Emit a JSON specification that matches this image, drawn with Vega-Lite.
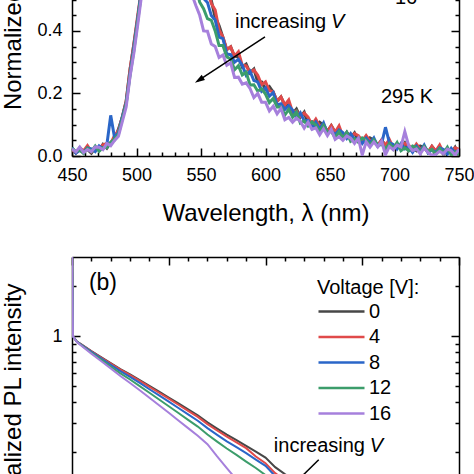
{
  "$schema": "https://vega.github.io/schema/vega-lite/v6.json",
  "padding": {"left": 1, "top": -189, "right": 0, "bottom": -88},
  "spacing": 31,
  "config": {
    "font": "Liberation Sans",
    "view": {"stroke": null},
    "axis": {"grid": false, "domainColor": "black", "domainWidth": 1.5, "tickColor": "black", "tickWidth": 1.5, "labelColor": "black", "titleColor": "black", "labelFontSize": 18, "titleFontSize": 24, "titleFontWeight": "normal", "labelFont": "Liberation Sans", "titleFont": "Liberation Sans", "labelOverlap": false, "labelFlush": false}
  },
  "resolve": {"legend": {"color": "independent"}},
  "datasets": {
    "spectra": [
      {"w":450,"0":0.020,"4":0.021,"8":0.027,"12":0.025,"16":0.023},
      {"w":453,"0":0.010,"4":0.010,"8":0.009,"12":0.014,"16":0.013},
      {"w":456,"0":0.026,"4":0.026,"8":0.018,"12":0.019,"16":0.029},
      {"w":459,"0":0.015,"4":0.016,"8":0.012,"12":0.008,"16":0.011},
      {"w":462,"0":0.021,"4":0.033,"8":0.026,"12":0.025,"16":0.021},
      {"w":465,"0":0.009,"4":0.014,"8":0.023,"12":0.014,"16":0.014},
      {"w":468,"0":0.027,"4":0.025,"8":0.014,"12":0.032,"16":0.029},
      {"w":471,"0":0.018,"4":0.020,"8":0.032,"12":0.015,"16":0.028},
      {"w":474,"0":0.037,"4":0.036,"8":0.023,"12":0.027,"16":0.020},
      {"w":477,"0":0.025,"4":0.040,"8":0.035,"12":0.027,"16":0.040},
      {"w":480,"0":0.043,"4":0.040,"8":0.130,"12":0.044,"16":0.033},
      {"w":483,"0":0.051,"4":0.065,"8":0.058,"12":0.055,"16":0.050},
      {"w":486,"0":0.086,"4":0.081,"8":0.075,"12":0.070,"16":0.063},
      {"w":489,"0":0.124,"4":0.125,"8":0.125,"12":0.119,"16":0.110},
      {"w":492,"0":0.175,"4":0.176,"8":0.170,"12":0.167,"16":0.157},
      {"w":495,"0":0.277,"4":0.278,"8":0.265,"12":0.258,"16":0.254},
      {"w":498,"0":0.358,"4":0.360,"8":0.350,"12":0.339,"16":0.330},
      {"w":501,"0":0.442,"4":0.452,"8":0.441,"12":0.434,"16":0.421},
      {"w":504,"0":0.533,"4":0.538,"8":0.539,"12":0.526,"16":0.516},
      {"w":507,"0":0.665,"4":0.664,"8":0.650,"12":0.658,"16":0.646},
      {"w":510,"0":0.767,"4":0.769,"8":0.775,"12":0.759,"16":0.764},
      {"w":513,"0":0.869,"4":0.869,"8":0.858,"12":0.861,"16":0.855},
      {"w":516,"0":0.925,"4":0.937,"8":0.932,"12":0.926,"16":0.937},
      {"w":519,"0":0.971,"4":0.968,"8":0.966,"12":0.982,"16":0.978},
      {"w":522,"0":0.996,"4":1.0,"8":1.0,"12":1.0,"16":1.0},
      {"w":525,"0":1.0,"4":0.996,"8":0.988,"12":0.982,"16":0.973},
      {"w":528,"0":0.974,"4":0.975,"8":0.972,"12":0.961,"16":0.945},
      {"w":531,"0":0.925,"4":0.926,"8":0.910,"12":0.895,"16":0.867},
      {"w":534,"0":0.877,"4":0.878,"8":0.849,"12":0.823,"16":0.789},
      {"w":537,"0":0.798,"4":0.800,"8":0.766,"12":0.727,"16":0.675},
      {"w":540,"0":0.722,"4":0.732,"8":0.694,"12":0.654,"16":0.591},
      {"w":543,"0":0.643,"4":0.648,"8":0.621,"12":0.576,"16":0.516},
      {"w":546,"0":0.605,"4":0.604,"8":0.564,"12":0.540,"16":0.481},
      {"w":549,"0":0.557,"4":0.559,"8":0.539,"12":0.492,"16":0.450},
      {"w":552,"0":0.558,"4":0.555,"8":0.504,"12":0.471,"16":0.400},
      {"w":555,"0":0.509,"4":0.530,"8":0.491,"12":0.439,"16":0.399},
      {"w":558,"0":0.497,"4":0.488,"8":0.449,"12":0.434,"16":0.358},
      {"w":561,"0":0.443,"4":0.467,"8":0.435,"12":0.400,"16":0.350},
      {"w":564,"0":0.417,"4":0.404,"8":0.380,"12":0.353,"16":0.315},
      {"w":567,"0":0.379,"4":0.380,"8":0.375,"12":0.353,"16":0.323},
      {"w":570,"0":0.340,"4":0.340,"8":0.326,"12":0.317,"16":0.290},
      {"w":573,"0":0.349,"4":0.349,"8":0.324,"12":0.310,"16":0.298},
      {"w":576,"0":0.318,"4":0.319,"8":0.300,"12":0.276,"16":0.251},
      {"w":579,"0":0.317,"4":0.333,"8":0.309,"12":0.289,"16":0.252},
      {"w":582,"0":0.285,"4":0.290,"8":0.290,"12":0.259,"16":0.230},
      {"w":585,"0":0.294,"4":0.288,"8":0.258,"12":0.268,"16":0.234},
      {"w":588,"0":0.266,"4":0.268,"8":0.271,"12":0.227,"16":0.216},
      {"w":591,"0":0.278,"4":0.275,"8":0.241,"12":0.228,"16":0.187},
      {"w":594,"0":0.237,"4":0.258,"8":0.237,"12":0.207,"16":0.200},
      {"w":597,"0":0.237,"4":0.228,"8":0.207,"12":0.215,"16":0.172},
      {"w":600,"0":0.213,"4":0.237,"8":0.218,"12":0.198,"16":0.172},
      {"w":603,"0":0.222,"4":0.209,"8":0.191,"12":0.171,"16":0.144},
      {"w":606,"0":0.204,"4":0.205,"8":0.203,"12":0.184,"16":0.159},
      {"w":609,"0":0.175,"4":0.175,"8":0.163,"12":0.157,"16":0.135},
      {"w":612,"0":0.189,"4":0.189,"8":0.167,"12":0.157,"16":0.152},
      {"w":615,"0":0.162,"4":0.163,"8":0.149,"12":0.131,"16":0.116},
      {"w":618,"0":0.163,"4":0.179,"8":0.161,"12":0.149,"16":0.123},
      {"w":621,"0":0.135,"4":0.140,"8":0.147,"12":0.124,"16":0.108},
      {"w":624,"0":0.150,"4":0.144,"8":0.122,"12":0.141,"16":0.121},
      {"w":627,"0":0.124,"4":0.126,"8":0.138,"12":0.105,"16":0.111},
      {"w":630,"0":0.140,"4":0.137,"8":0.113,"12":0.112,"16":0.089},
      {"w":633,"0":0.103,"4":0.124,"8":0.114,"12":0.096,"16":0.108},
      {"w":636,"0":0.109,"4":0.100,"8":0.089,"12":0.109,"16":0.085},
      {"w":639,"0":0.094,"4":0.118,"8":0.108,"12":0.099,"16":0.090},
      {"w":642,"0":0.108,"4":0.095,"8":0.086,"12":0.078,"16":0.068},
      {"w":645,"0":0.099,"4":0.100,"8":0.106,"12":0.098,"16":0.087},
      {"w":648,"0":0.078,"4":0.078,"8":0.073,"12":0.075,"16":0.065},
      {"w":651,"0":0.097,"4":0.097,"8":0.081,"12":0.079,"16":0.085},
      {"w":654,"0":0.075,"4":0.076,"8":0.068,"12":0.058,"16":0.053},
      {"w":657,"0":0.080,"4":0.096,"8":0.083,"12":0.078,"16":0.062},
      {"w":660,"0":0.058,"4":0.063,"8":0.075,"12":0.057,"16":0.050},
      {"w":663,"0":0.076,"4":0.072,"8":0.056,"12":0.075,"16":0.064},
      {"w":666,"0":0.058,"4":0.060,"8":0.072,"12":0.047,"16":0.057},
      {"w":669,"0":0.074,"4":0.072,"8":0.053,"12":0.055,"16":0.040},
      {"w":672,"0":0.047,"4":0.065,"8":0.057,"12":0.044,"16":0.057},
      {"w":675,"0":0.055,"4":0.048,"8":0.040,"12":0.058,"16":0.003},
      {"w":678,"0":0.044,"4":0.065,"8":0.057,"12":0.051,"16":0.045},
      {"w":681,"0":0.058,"4":0.048,"8":0.041,"12":0.035,"16":0.028},
      {"w":684,"0":0.051,"4":0.052,"8":0.058,"12":0.052,"16":0.045},
      {"w":687,"0":0.034,"4":0.034,"8":0.031,"12":0.035,"16":0.029},
      {"w":690,"0":0.051,"4":0.051,"8":0.039,"12":0.039,"16":0.047},
      {"w":693,"0":0.034,"4":0.035,"8":0.092,"12":0.022,"16":0.004},
      {"w":696,"0":0.039,"4":0.053,"8":0.043,"12":0.040,"16":0.030},
      {"w":699,"0":0.022,"4":0.027,"8":0.037,"12":0.024,"16":0.020},
      {"w":702,"0":0.040,"4":0.036,"8":0.022,"12":0.043,"16":0.035},
      {"w":705,"0":0.024,"4":0.026,"8":0.040,"12":0.017,"16":0.029},
      {"w":708,"0":0.042,"4":0.040,"8":0.023,"12":0.026,"16":0.078},
      {"w":711,"0":0.017,"4":0.035,"8":0.029,"12":0.017,"16":0.033},
      {"w":714,"0":0.026,"4":0.019,"8":0.012,"12":0.032,"16":0.017},
      {"w":717,"0":0.017,"4":0.038,"8":0.031,"12":0.027,"16":0.023},
      {"w":720,"0":0.032,"4":0.022,"8":0.016,"12":0.012,"16":0.007},
      {"w":723,"0":0.027,"4":0.028,"8":0.035,"12":0.031,"16":0.026},
      {"w":726,"0":0.012,"4":0.012,"8":0.010,"12":0.015,"16":0.011},
      {"w":729,"0":0.031,"4":0.031,"8":0.020,"12":0.021,"16":0.002},
      {"w":732,"0":0.015,"4":0.016,"8":0.011,"12":0.005,"16":0.005},
      {"w":735,"0":0.021,"4":0.035,"8":0.026,"12":0.024,"16":0.015},
      {"w":738,"0":0.005,"4":0.010,"8":0.021,"12":0.009,"16":0.007},
      {"w":741,"0":0.024,"4":0.020,"8":0.006,"12":0.028,"16":0.022},
      {"w":744,"0":0.009,"4":0.011,"8":0.025,"12":0.003,"16":0.017},
      {"w":747,"0":0.028,"4":0.026,"8":0.010,"12":0.014,"16":0.003},
      {"w":750,"0":0.003,"4":0.021,"8":0.016,"12":0.005,"16":0.022}
    ],
    "decay": [
      {"t":0,"0":3.5,"4":3.5,"8":3.5,"12":3.5,"16":3.5},
      {"t":0.05,"0":1.0,"4":1.0,"8":1.0,"12":1.0,"16":1.0},
      {"t":0.25,"0":0.93,"4":0.93,"8":0.928,"12":0.925,"16":0.922},
      {"t":0.5,"0":0.89,"4":0.888,"8":0.885,"12":0.879,"16":0.874},
      {"t":1,"0":0.815,"4":0.812,"8":0.806,"12":0.795,"16":0.786},
      {"t":1.5,"0":0.75,"4":0.745,"8":0.737,"12":0.723,"16":0.710},
      {"t":2,"0":0.69,"4":0.685,"8":0.674,"12":0.658,"16":0.641},
      {"t":2.5,"0":0.635,"4":0.630,"8":0.617,"12":0.598,"16":0.577},
      {"t":3,"0":0.59,"4":0.584,"8":0.570,"12":0.549,"16":0.523},
      {"t":3.5,"0":0.545,"4":0.539,"8":0.524,"12":0.501,"16":0.473},
      {"t":4,"0":0.503,"4":0.496,"8":0.480,"12":0.457,"16":0.426},
      {"t":4.5,"0":0.464,"4":0.457,"8":0.441,"12":0.416,"16":0.384},
      {"t":5,"0":0.428,"4":0.421,"8":0.404,"12":0.379,"16":0.346},
      {"t":5.5,"0":0.394,"4":0.387,"8":0.370,"12":0.345,"16":0.311},
      {"t":6,"0":0.363,"4":0.356,"8":0.339,"12":0.314,"16":0.280},
      {"t":6.5,"0":0.334,"4":0.327,"8":0.310,"12":0.286,"16":0.252},
      {"t":7,"0":0.303,"4":0.296,"8":0.280,"12":0.256,"16":0.224},
      {"t":7.5,"0":0.278,"4":0.271,"8":0.255,"12":0.232,"16":0.189},
      {"t":8,"0":0.256,"4":0.249,"8":0.233,"12":0.211,"16":0.161},
      {"t":8.5,"0":0.237,"4":0.230,"8":0.215,"12":0.193,"16":0.137},
      {"t":9,"0":0.219,"4":0.212,"8":0.198,"12":0.176,"16":0.117},
      {"t":9.5,"0":0.202,"4":0.189,"8":0.181,"12":0.161,"16":0.099},
      {"t":10,"0":0.186,"4":0.172,"8":0.166,"12":0.146,"16":0.084},
      {"t":10.5,"0":0.163,"4":0.150,"8":0.144,"12":0.126,"16":0.071},
      {"t":11,"0":0.148,"4":0.136,"8":0.130,"12":0.113,"16":0.063},
      {"t":11.5,"0":0.135,"4":0.124,"8":0.118,"12":0.102,"16":0.055},
      {"t":12,"0":0.123,"4":0.113,"8":0.107,"12":0.092,"16":0.049},
      {"t":13,"0":0.102,"4":0.094,"8":0.088,"12":0.074,"16":0.038},
      {"t":14,"0":0.085,"4":0.078,"8":0.072,"12":0.061,"16":0.029},
      {"t":15,"0":0.071,"4":0.065,"8":0.060,"12":0.049,"16":0.023},
      {"t":16,"0":0.059,"4":0.054,"8":0.049,"12":0.040,"16":0.018},
      {"t":17,"0":0.049,"4":0.045,"8":0.040,"12":0.032,"16":0.014},
      {"t":18,"0":0.041,"4":0.037,"8":0.033,"12":0.027,"16":0.011},
      {"t":19,"0":0.034,"4":0.031,"8":0.027,"12":0.021,"16":0.009},
      {"t":20,"0":0.028,"4":0.025,"8":0.022,"12":0.017,"16":0.006}
    ]
  },
  "vconcat": [
    {
      "width": 387,
      "height": 344,
      "resolve": {"axis": {"x": "independent", "y": "independent"}},
      "layer": [
        {
          "data": {"name": "spectra"},
          "transform": [{"fold": ["0", "4", "8", "12", "16"], "as": ["V", "I"]}],
          "mark": {"type": "line", "strokeWidth": 3, "clip": true},
          "encoding": {
            "x": {"field": "w", "type": "quantitative", "scale": {"domain": [450, 750], "nice": false, "zero": false},
              "axis": {"orient": "bottom", "values": [450,460,470,480,490,500,510,520,530,540,550,560,570,580,590,600,610,620,630,640,650,660,670,680,690,700,710,720,730,740,750],
                "labelExpr": "datum.value % 50 === 0 ? datum.label : ''",
                "tickSize": {"condition": {"test": "datum.value % 50 === 0", "value": -8}, "value": -4},
                "labelPadding": 18, "format": "d",
                "title": "Wavelength, λ (nm)", "titleY": 64, "titleBaseline": "alphabetic"}},
            "y": {"field": "I", "type": "quantitative", "scale": {"domain": [0, 1.1], "nice": false},
              "axis": {"orient": "left", "values": [0,0.05,0.1,0.15,0.2,0.25,0.3,0.35,0.4,0.45,0.5,0.55,0.6,0.65,0.7,0.75,0.8,0.85,0.9,0.95,1,1.05],
                "labelExpr": "abs(datum.value*5-round(datum.value*5)) < 0.001 ? format(datum.value, '.1f') : ''",
                "tickSize": {"condition": {"test": "abs(datum.value*5-round(datum.value*5)) < 0.001", "value": -8}, "value": -4},
                "labelPadding": 18,
                "title": "Normalized PL intensity", "titleX": -52, "titleBaseline": "alphabetic"}},
            "color": {"field": "V", "type": "nominal",
              "scale": {"domain": ["0", "4", "8", "12", "16"], "range": ["#474747", "#e04a4a", "#2a66c8", "#3c9d6b", "#a680dc"]},
              "legend": null}
          }
        },
        {
          "data": {"values": [{}]},
          "mark": {"type": "text", "fontSize": 20, "color": "black", "align": "center", "baseline": "middle"},
          "encoding": {
            "x": {"datum": 709.7, "type": "quantitative",
              "axis": {"orient": "top", "values": [450,460,470,480,490,500,510,520,530,540,550,560,570,580,590,600,610,620,630,640,650,660,670,680,690,700,710,720,730,740,750],
                "labels": false, "title": null,
                "tickSize": {"condition": {"test": "datum.value % 50 === 0", "value": -8}, "value": -4}}},
            "y": {"datum": 0.189, "type": "quantitative",
              "axis": {"orient": "right", "values": [0,0.05,0.1,0.15,0.2,0.25,0.3,0.35,0.4,0.45,0.5,0.55,0.6,0.65,0.7,0.75,0.8,0.85,0.9,0.95,1,1.05],
                "labels": false, "title": null,
                "tickSize": {"condition": {"test": "abs(datum.value*5-round(datum.value*5)) < 0.001", "value": -8}, "value": -4}}},
            "text": {"value": "295 K"}
          }
        },
        {
          "data": {"values": [{}]},
          "mark": {"type": "text", "fontSize": 20, "color": "black", "align": "left", "baseline": "middle"},
          "encoding": {
            "x": {"datum": 576.4, "type": "quantitative", "axis": null},
            "y": {"datum": 0.429, "type": "quantitative", "axis": null},
            "text": {"value": "increasing"}
          }
        },
        {
          "data": {"values": [{}]},
          "mark": {"type": "text", "fontSize": 20, "color": "black", "align": "left", "baseline": "middle", "fontStyle": "italic", "dx": 96},
          "encoding": {
            "x": {"datum": 576.4, "type": "quantitative", "axis": null},
            "y": {"datum": 0.429, "type": "quantitative", "axis": null},
            "text": {"value": "V"}
          }
        },
        {
          "data": {"values": [{}]},
          "mark": {"type": "text", "fontSize": 20, "color": "black", "align": "center", "baseline": "alphabetic"},
          "encoding": {
            "x": {"datum": 709, "type": "quantitative", "axis": null},
            "y": {"datum": 0.486, "type": "quantitative", "axis": null},
            "text": {"value": "16"}
          }
        },
        {
          "data": {"values": [{}]},
          "mark": {"type": "rule", "color": "black", "strokeWidth": 1.5},
          "encoding": {
            "x": {"datum": 599.6, "type": "quantitative", "axis": null},
            "y": {"datum": 0.381, "type": "quantitative", "axis": null},
            "x2": {"datum": 547.5},
            "y2": {"datum": 0.240}
          }
        },
        {
          "data": {"values": [{}]},
          "mark": {"type": "point", "shape": "M0,0L0.3,1L-0.3,1Z", "filled": true, "color": "black", "opacity": 1, "size": 400, "angle": 237},
          "encoding": {
            "x": {"datum": 545.3, "type": "quantitative", "axis": null},
            "y": {"datum": 0.234, "type": "quantitative", "axis": null}
          }
        }
      ]
    },
    {
      "width": 387,
      "height": 303,
      "resolve": {"axis": {"x": "independent", "y": "independent"}},
      "layer": [
        {
          "data": {"name": "decay"},
          "transform": [{"fold": ["0", "4", "8", "12", "16"], "as": ["V", "I"]}],
          "mark": {"type": "line", "strokeWidth": 2, "clip": true},
          "encoding": {
            "x": {"field": "t", "type": "quantitative", "scale": {"domain": [0, 20], "nice": false, "zero": false},
              "axis": {"orient": "bottom", "values": [0,1,2,3,4,5,6,7,8,9,10,11,12,13,14,15,16,17,18,19,20],
                "labels": false, "title": null,
                "tickSize": {"condition": {"test": "datum.value % 5 === 0", "value": -8}, "value": -4}}},
            "y": {"field": "I", "type": "quantitative", "scale": {"type": "log", "domain": [0.045, 3], "nice": false},
              "axis": {"orient": "left", "values": [0.05,0.06,0.07,0.08,0.09,0.1,0.2,0.3,0.4,0.5,0.6,0.7,0.8,0.9,1,2],
                "labelExpr": "datum.value === 1 ? '1' : (datum.value === 0.1 ? '0.1' : '')",
                "tickSize": {"condition": {"test": "datum.value === 1 || datum.value === 0.1", "value": -8}, "value": -4},
                "labelPadding": 18,
                "title": "Normalized PL intensity", "titleX": -52, "titleBaseline": "alphabetic"}},
            "color": {"field": "V", "type": "nominal",
              "scale": {"domain": ["0", "4", "8", "12", "16"], "range": ["#474747", "#e04a4a", "#2a66c8", "#3c9d6b", "#a680dc"]},
              "legend": {"orient": "none", "legendX": 245, "legendY": 21, "padding": 0,
                "title": "Voltage [V]:", "titleFontSize": 20, "titleFontWeight": "normal", "titleColor": "black", "titleFont": "Liberation Sans", "titlePadding": 3.5,
                "labelFontSize": 20, "labelColor": "black", "labelFont": "Liberation Sans", "labelOffset": 3,
                "symbolType": "stroke", "symbolSize": 2116, "symbolStrokeWidth": 2.5, "clipHeight": 20, "rowPadding": 5.5}}
          }
        },
        {
          "data": {"values": [{}]},
          "mark": {"type": "text", "fontSize": 23, "color": "black", "align": "center", "baseline": "middle"},
          "encoding": {
            "x": {"datum": 1.6, "type": "quantitative",
              "axis": {"orient": "top", "values": [0,1,2,3,4,5,6,7,8,9,10,11,12,13,14,15,16,17,18,19,20],
                "labels": false, "title": null,
                "tickSize": {"condition": {"test": "datum.value % 5 === 0", "value": -8}, "value": -4}}},
            "y": {"datum": 2.106, "type": "quantitative",
              "axis": {"orient": "right", "values": [0.05,0.06,0.07,0.08,0.09,0.1,0.2,0.3,0.4,0.5,0.6,0.7,0.8,0.9,1,2],
                "labels": false, "title": null,
                "tickSize": {"condition": {"test": "datum.value === 1 || datum.value === 0.1", "value": -8}, "value": -4}}},
            "text": {"value": "(b)"}
          }
        },
        {
          "data": {"values": [{}]},
          "mark": {"type": "text", "fontSize": 20, "color": "black", "align": "left", "baseline": "middle"},
          "encoding": {
            "x": {"datum": 10.43, "type": "quantitative", "axis": null},
            "y": {"datum": 0.2175, "type": "quantitative", "axis": null},
            "text": {"value": "increasing"}
          }
        },
        {
          "data": {"values": [{}]},
          "mark": {"type": "text", "fontSize": 20, "color": "black", "align": "left", "baseline": "middle", "fontStyle": "italic", "dx": 96},
          "encoding": {
            "x": {"datum": 10.43, "type": "quantitative", "axis": null},
            "y": {"datum": 0.2175, "type": "quantitative", "axis": null},
            "text": {"value": "V"}
          }
        },
        {
          "data": {"values": [{}]},
          "mark": {"type": "rule", "color": "black", "strokeWidth": 1.5, "clip": true},
          "encoding": {
            "x": {"datum": 12.75, "type": "quantitative", "axis": null},
            "y": {"datum": 0.1808, "type": "quantitative", "axis": null},
            "x2": {"datum": 11.29},
            "y2": {"datum": 0.1227}
          }
        }
      ]
    }
  ]
}
